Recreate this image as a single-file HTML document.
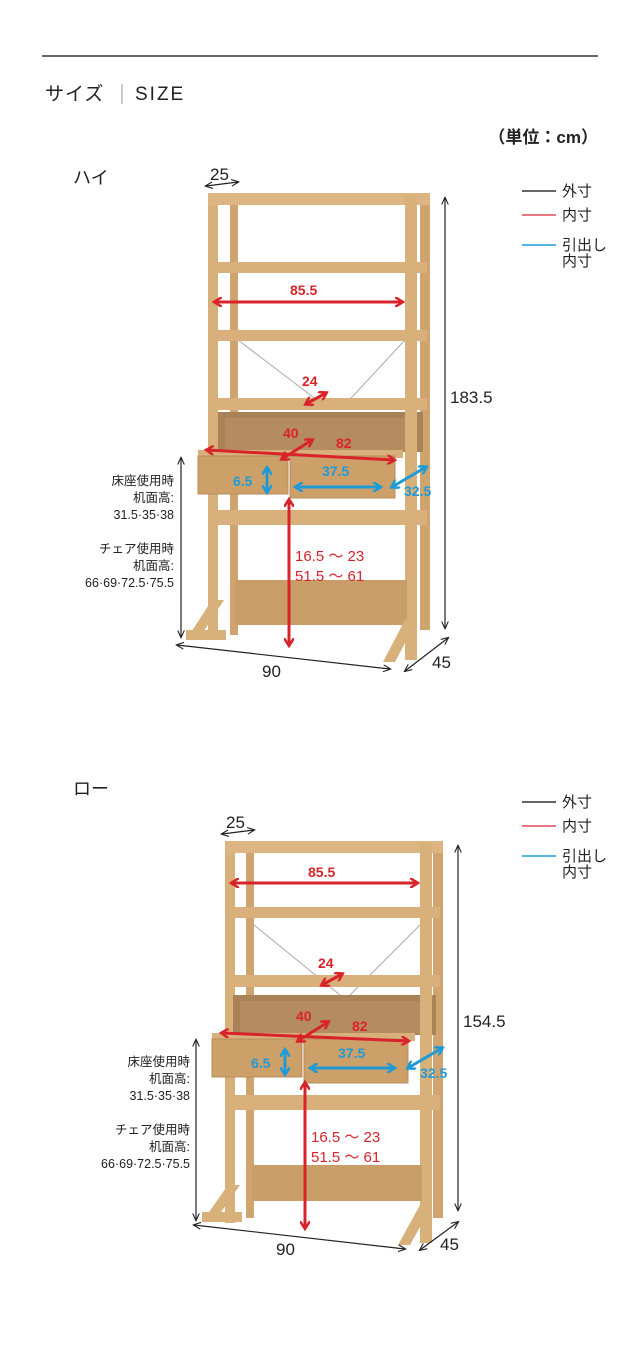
<!DOCTYPE html>
<html><head><meta charset="utf-8"><style>
body{margin:0;background:#fff}
svg{display:block;font-family:"Liberation Sans","Noto Sans CJK JP",sans-serif}
</style></head><body>
<svg width="640" height="1350" viewBox="0 0 640 1350" xmlns="http://www.w3.org/2000/svg">
<defs>
<marker id="r" viewBox="0 0 10 10" refX="7" refY="5" markerWidth="3.3" markerHeight="3.3" orient="auto-start-reverse"><path d="M0,0L8,5L0,10" fill="none" stroke="#d8232a" stroke-width="2.5"/></marker>
<marker id="b" viewBox="0 0 10 10" refX="7" refY="5" markerWidth="3.3" markerHeight="3.3" orient="auto-start-reverse"><path d="M0,0L8,5L0,10" fill="none" stroke="#1e9bd7" stroke-width="2.5"/></marker>
<marker id="k" viewBox="0 0 10 10" refX="8" refY="5" markerWidth="7" markerHeight="7" orient="auto-start-reverse"><path d="M0,1L9,5L0,9" fill="none" stroke="#222" stroke-width="1.3"/></marker>
</defs>
<rect width="640" height="1350" fill="#fff"/>
<line x1="42" y1="56" x2="598" y2="56" stroke="#333" stroke-width="1.5"/>
<text x="45" y="100" font-size="19" fill="#222" letter-spacing="1">サイズ</text>
<line x1="122" y1="84" x2="122" y2="104" stroke="#999"/>
<text x="135" y="100" font-size="19" fill="#222" letter-spacing="2">SIZE</text>
<text x="598" y="143" font-size="17" font-weight="bold" fill="#222" text-anchor="end">（単位：cm）</text>

<!-- legends -->
<g font-size="15" fill="#222">
<line x1="522" y1="191" x2="556" y2="191" stroke="#333" stroke-width="1.5"/><text x="562" y="196">外寸</text>
<line x1="522" y1="215" x2="556" y2="215" stroke="#e04a5a" stroke-width="1.5"/><text x="562" y="220">内寸</text>
<line x1="522" y1="245" x2="556" y2="245" stroke="#1e9bd7" stroke-width="1.5"/><text x="562" y="250">引出し</text><text x="562" y="266">内寸</text>
<line x1="522" y1="802" x2="556" y2="802" stroke="#333" stroke-width="1.5"/><text x="562" y="807">外寸</text>
<line x1="522" y1="826" x2="556" y2="826" stroke="#e04a5a" stroke-width="1.5"/><text x="562" y="831">内寸</text>
<line x1="522" y1="856" x2="556" y2="856" stroke="#1e9bd7" stroke-width="1.5"/><text x="562" y="861">引出し</text><text x="562" y="877">内寸</text>
</g>

<text x="73" y="184" font-size="18" fill="#222">ハイ</text>
<text x="73" y="795" font-size="18" fill="#222">ロー</text>

<!-- HIGH furniture -->
<g>
<rect x="420" y="195" width="10" height="435" fill="#cfa46e"/>
<rect x="208" y="195" width="10" height="440" fill="#d8b07a"/>
<rect x="230" y="205" width="8" height="430" fill="#cfa46e"/>
<line x1="238" y1="340" x2="330" y2="410" stroke="#aaa"/><line x1="405" y1="340" x2="340" y2="410" stroke="#aaa"/>
<rect x="208" y="193" width="222" height="12" fill="#dcb582"/>
<rect x="215" y="262" width="212" height="11" fill="#d9b07b"/>
<rect x="215" y="330" width="212" height="11" fill="#d9b07b"/>
<rect x="215" y="398" width="212" height="12" fill="#d9b07b"/>
<rect x="218" y="412" width="205" height="40" fill="#a98258"/>
<rect x="225" y="418" width="185" height="32" fill="#b48c60"/>
<rect x="405" y="195" width="12" height="465" fill="#d8b07a"/>
<rect x="198" y="450" width="205" height="8" fill="#d9b07b"/>
<rect x="198" y="456" width="90" height="38" fill="#cda06a" stroke="#b88d5c"/>
<rect x="290" y="456" width="105" height="42" fill="#cda06a" stroke="#b88d5c"/>
<rect x="215" y="510" width="212" height="15" fill="#d9b07b"/>
<rect x="235" y="580" width="172" height="45" fill="#c89d68"/>
<polygon points="212,600 224,600 198,640 186,640" fill="#d8b07a"/>
<rect x="186" y="630" width="40" height="10" fill="#d8b07a"/>
<polygon points="405,620 417,620 395,662 383,662" fill="#d8b07a"/>
</g>
<g font-size="14" font-weight="bold">
<line x1="215" y1="302" x2="402" y2="302" stroke="#d8232a" stroke-width="3" marker-start="url(#r)" marker-end="url(#r)"/>
<text x="290" y="295" fill="#d8232a">85.5</text>
<line x1="306" y1="404" x2="326" y2="393" stroke="#d8232a" stroke-width="3" marker-start="url(#r)" marker-end="url(#r)"/>
<text x="302" y="386" fill="#d8232a">24</text>
<line x1="207" y1="450" x2="394" y2="460" stroke="#d8232a" stroke-width="3" marker-start="url(#r)" marker-end="url(#r)"/>
<line x1="282" y1="459" x2="312" y2="440" stroke="#d8232a" stroke-width="3" marker-start="url(#r)" marker-end="url(#r)"/>
<text x="283" y="438" fill="#d8232a">40</text><text x="336" y="448" fill="#d8232a">82</text>
<line x1="267" y1="468" x2="267" y2="492" stroke="#1e9bd7" stroke-width="3" marker-start="url(#b)" marker-end="url(#b)"/>
<text x="233" y="486" fill="#1e9bd7">6.5</text>
<line x1="296" y1="487" x2="380" y2="487" stroke="#1e9bd7" stroke-width="3" marker-start="url(#b)" marker-end="url(#b)"/>
<text x="322" y="476" fill="#1e9bd7">37.5</text>
<line x1="392" y1="487" x2="426" y2="467" stroke="#1e9bd7" stroke-width="3" marker-start="url(#b)" marker-end="url(#b)"/>
<text x="404" y="496" fill="#1e9bd7">32.5</text>
<line x1="289" y1="500" x2="289" y2="645" stroke="#d8232a" stroke-width="3" marker-start="url(#r)" marker-end="url(#r)"/>
<text x="295" y="561" fill="#d8232a" font-weight="normal" font-size="15">16.5 ～ 23</text>
<text x="295" y="581" fill="#d8232a" font-weight="normal" font-size="15">51.5 ～ 61</text>
</g>
<g stroke="#222" stroke-width="1.2" fill="none">
<line x1="206" y1="186" x2="238" y2="182" marker-start="url(#k)" marker-end="url(#k)"/>
<line x1="445" y1="198" x2="445" y2="628" marker-start="url(#k)" marker-end="url(#k)"/>
<line x1="181" y1="458" x2="181" y2="637" marker-start="url(#k)" marker-end="url(#k)"/>
<line x1="177" y1="645" x2="390" y2="669" marker-start="url(#k)" marker-end="url(#k)"/>
<line x1="405" y1="671" x2="448" y2="638" marker-start="url(#k)" marker-end="url(#k)"/>
</g>
<g font-size="17" fill="#222">
<text x="210" y="180">25</text><text x="450" y="403">183.5</text>
<text x="262" y="677">90</text><text x="432" y="668">45</text>
</g>
<g font-size="12.5" fill="#222" text-anchor="end">
<text x="174" y="485">床座使用時</text><text x="174" y="502">机面高:</text><text x="174" y="519">31.5·35·38</text>
<text x="174" y="553">チェア使用時</text><text x="174" y="570">机面高:</text><text x="174" y="587">66·69·72.5·75.5</text>
</g>

<!-- LOW furniture -->
<g>
<rect x="433" y="843" width="10" height="375" fill="#cfa46e"/>
<rect x="225" y="843" width="10" height="380" fill="#d8b07a"/>
<rect x="246" y="853" width="8" height="365" fill="#cfa46e"/>
<line x1="254" y1="925" x2="340" y2="995" stroke="#aaa"/><line x1="420" y1="925" x2="350" y2="995" stroke="#aaa"/>
<rect x="225" y="841" width="218" height="12" fill="#dcb582"/>
<rect x="232" y="907" width="208" height="11" fill="#d9b07b"/>
<rect x="232" y="975" width="208" height="12" fill="#d9b07b"/>
<rect x="233" y="995" width="203" height="40" fill="#a98258"/>
<rect x="240" y="1001" width="182" height="32" fill="#b48c60"/>
<rect x="420" y="843" width="12" height="400" fill="#d8b07a"/>
<rect x="212" y="1033" width="203" height="8" fill="#d9b07b"/>
<rect x="212" y="1039" width="90" height="38" fill="#cda06a" stroke="#b88d5c"/>
<rect x="304" y="1039" width="104" height="44" fill="#cda06a" stroke="#b88d5c"/>
<rect x="232" y="1095" width="208" height="15" fill="#d9b07b"/>
<rect x="252" y="1165" width="170" height="36" fill="#c89d68"/>
<polygon points="228,1185 240,1185 214,1222 202,1222" fill="#d8b07a"/>
<rect x="202" y="1212" width="40" height="10" fill="#d8b07a"/>
<polygon points="420,1205 432,1205 410,1245 398,1245" fill="#d8b07a"/>
</g>
<g font-size="14" font-weight="bold">
<line x1="232" y1="883" x2="417" y2="883" stroke="#d8232a" stroke-width="3" marker-start="url(#r)" marker-end="url(#r)"/>
<text x="308" y="877" fill="#d8232a">85.5</text>
<line x1="322" y1="985" x2="342" y2="974" stroke="#d8232a" stroke-width="3" marker-start="url(#r)" marker-end="url(#r)"/>
<text x="318" y="968" fill="#d8232a">24</text>
<line x1="222" y1="1033" x2="408" y2="1041" stroke="#d8232a" stroke-width="3" marker-start="url(#r)" marker-end="url(#r)"/>
<line x1="298" y1="1041" x2="328" y2="1022" stroke="#d8232a" stroke-width="3" marker-start="url(#r)" marker-end="url(#r)"/>
<text x="296" y="1021" fill="#d8232a">40</text><text x="352" y="1031" fill="#d8232a">82</text>
<line x1="285" y1="1050" x2="285" y2="1074" stroke="#1e9bd7" stroke-width="3" marker-start="url(#b)" marker-end="url(#b)"/>
<text x="251" y="1068" fill="#1e9bd7">6.5</text>
<line x1="311" y1="1068" x2="394" y2="1068" stroke="#1e9bd7" stroke-width="3" marker-start="url(#b)" marker-end="url(#b)"/>
<text x="338" y="1058" fill="#1e9bd7">37.5</text>
<line x1="408" y1="1068" x2="442" y2="1048" stroke="#1e9bd7" stroke-width="3" marker-start="url(#b)" marker-end="url(#b)"/>
<text x="420" y="1078" fill="#1e9bd7">32.5</text>
<line x1="305" y1="1083" x2="305" y2="1228" stroke="#d8232a" stroke-width="3" marker-start="url(#r)" marker-end="url(#r)"/>
<text x="311" y="1142" fill="#d8232a" font-weight="normal" font-size="15">16.5 ～ 23</text>
<text x="311" y="1162" fill="#d8232a" font-weight="normal" font-size="15">51.5 ～ 61</text>
</g>
<g stroke="#222" stroke-width="1.2" fill="none">
<line x1="222" y1="834" x2="254" y2="830" marker-start="url(#k)" marker-end="url(#k)"/>
<line x1="458" y1="846" x2="458" y2="1210" marker-start="url(#k)" marker-end="url(#k)"/>
<line x1="196" y1="1040" x2="196" y2="1220" marker-start="url(#k)" marker-end="url(#k)"/>
<line x1="194" y1="1225" x2="405" y2="1249" marker-start="url(#k)" marker-end="url(#k)"/>
<line x1="420" y1="1250" x2="458" y2="1222" marker-start="url(#k)" marker-end="url(#k)"/>
</g>
<g font-size="17" fill="#222">
<text x="226" y="828">25</text><text x="463" y="1027">154.5</text>
<text x="276" y="1255">90</text><text x="440" y="1250">45</text>
</g>
<g font-size="12.5" fill="#222" text-anchor="end">
<text x="190" y="1066">床座使用時</text><text x="190" y="1083">机面高:</text><text x="190" y="1100">31.5·35·38</text>
<text x="190" y="1134">チェア使用時</text><text x="190" y="1151">机面高:</text><text x="190" y="1168">66·69·72.5·75.5</text>
</g>
</svg>
</body></html>
